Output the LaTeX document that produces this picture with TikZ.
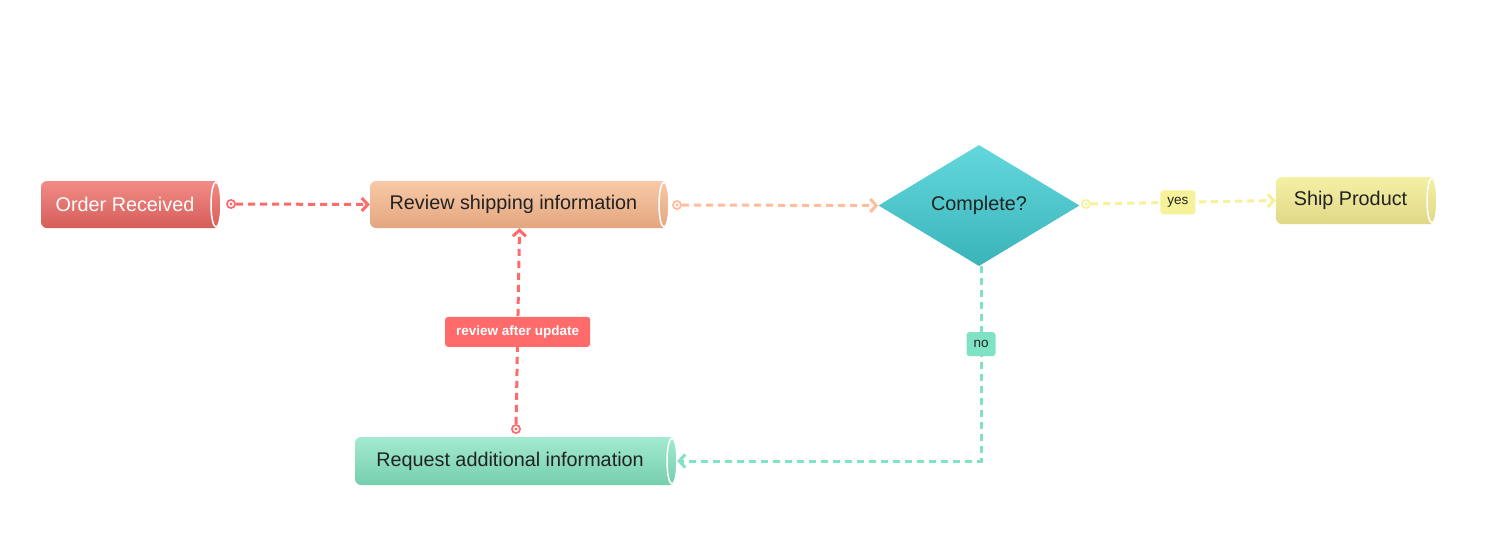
\documentclass[tikz,border=0pt]{standalone}
\usepackage{fontspec}
\setmainfont{Liberation Sans}
\usetikzlibrary{shapes.geometric,arrows.meta,calc}
\definecolor{cred}{HTML}{FF6B6B}
\definecolor{cpeach}{HTML}{FFBD9B}
\definecolor{cyellow}{HTML}{F7F299}
\definecolor{cgreen}{HTML}{80E2C4}
\definecolor{ink}{HTML}{222222}
\definecolor{ordT}{HTML}{F28B87}\definecolor{ordB}{HTML}{D55E59}
\definecolor{revT}{HTML}{F8C9A7}\definecolor{revB}{HTML}{E3A67F}
\definecolor{reqT}{HTML}{A3EAD1}\definecolor{reqB}{HTML}{76CEAD}
\definecolor{shpT}{HTML}{F5F0A6}\definecolor{shpB}{HTML}{E0D886}
\definecolor{dT}{HTML}{63D8DC}\definecolor{dB}{HTML}{3AB4B9}
% cylinder body: #1 x centre, #2 y centre, #3 width, #4 height, #5 top colour, #6 bottom colour
\newcommand\cylbody[6]{%
  \path[top color=#5,bottom color=#6]
    (#1-#3/2+6,#2+#4/2) -- (#1+#3/2-5,#2+#4/2)
    arc[start angle=90,end angle=-90,x radius=5,y radius=#4/2]
    -- (#1-#3/2+6,#2-#4/2)
    arc[start angle=270,end angle=180,radius=6]
    -- (#1-#3/2,#2+#4/2-6)
    arc[start angle=180,end angle=90,radius=6] -- cycle;
  \draw[white,line width=1.5pt] (#1+#3/2-5,#2) ellipse[x radius=5,y radius=#4/2-1];
}
\tikzset{
  cyltext/.style={minimum width=#1,minimum height=47,inner sep=0,
    font=\fontsize{19.8}{23}\selectfont,text=ink,execute at end node={\hspace*{12pt}}},
  dotmark/.style={circle,inner sep=0,minimum size=10,fill=#1,
    path picture={\fill[white] (path picture bounding box.center) circle (3);
                  \fill[#1] (path picture bounding box.center) circle (1.6);}},
  conn/.style={draw=#1,line width=3pt,dash pattern=on 7pt off 5pt,
    -{Straight Barb[length=6pt,width=13pt,line width=3pt]}},
  lbl/.style={fill=#1,rounded corners=3,inner xsep=7,minimum height=24,
    font=\fontsize{13.5}{16}\selectfont,text=ink,solid},
}
\begin{document}
\begin{tikzpicture}[x=1pt,y=1pt]
\useasboundingbox[fill=white] (0,0) rectangle (1490,-544);
% shapes
\cylbody{131}{-204.5}{180}{47}{ordT}{ordB}
\node[cyltext=180,text=white] (order) at (131,-204.5) {Order Received};
\cylbody{519.5}{-204.5}{299}{47}{revT}{revB}
\node[cyltext=299] (review) at (519.5,-204.5) {Review shipping information};
\cylbody{516}{-461}{322}{48}{reqT}{reqB}
\node[cyltext=322] (request) at (516,-461) {Request additional information};
\cylbody{1356.5}{-200.5}{161}{47}{shpT}{shpB}
\node[cyltext=161] (ship) at (1356.5,-200.5) {Ship Product};
\node[diamond,minimum width=201,minimum height=121,inner sep=0,
      top color=dT,bottom color=dB,
      font=\fontsize{19.8}{23}\selectfont,text=ink] (complete) at (979,-205.5) {Complete?};
% start markers
\node[dotmark=cred] (m1) at (231,-204) {};
\node[dotmark=cpeach] (m2) at (677,-205) {};
\node[dotmark=cyellow] (m3) at (1086,-204) {};
\node[dotmark=cred] (m4) at (516,-429) {};
% connectors
\draw[conn=cred] (m1) -- (review.west);
\draw[conn=cpeach] (m2) -- (complete.west);
\draw[conn=cyellow] (m3) -- node[lbl=cyellow,pos=0.47] (lyes) {yes} (ship.west);
\draw[conn=cgreen] (complete.south) ++(2,0) |- node[lbl=cgreen,pos=0.2] (lno) {no} (request.east);
\draw[conn=cred] (m4) -- node[lbl=cred,pos=0.47,text=white,minimum height=30,inner xsep=11,
   font=\fontsize{13.5}{16}\selectfont\bfseries] (lrev) {review after update} (review.south);
\end{tikzpicture}
\end{document}
